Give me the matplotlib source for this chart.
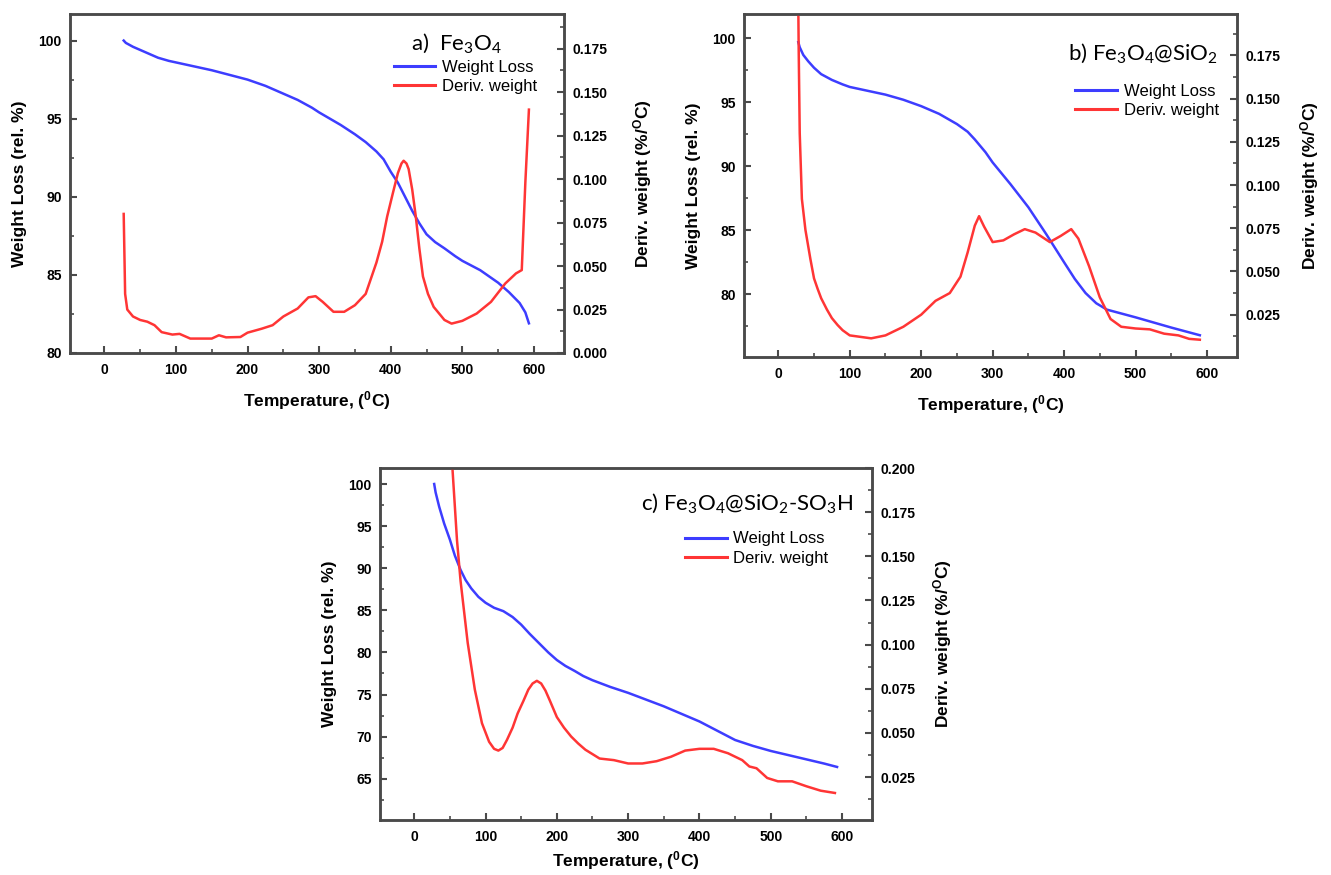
import matplotlib
matplotlib.use("Agg")
import matplotlib.pyplot as plt
from matplotlib.lines import Line2D
from matplotlib.ticker import MultipleLocator

plt.rcParams.update({
    "font.family": ["Liberation Sans", "DejaVu Sans"],
    "font.weight": "bold",
    "axes.labelweight": "bold",
    "axes.linewidth": 1.8,
    "axes.edgecolor": "#4a4a4a",
    "xtick.direction": "in", "ytick.direction": "in",
    "xtick.major.size": 5, "ytick.major.size": 5,
    "xtick.minor.size": 3, "ytick.minor.size": 3,
    "xtick.major.width": 1.5, "ytick.major.width": 1.5,
    "xtick.minor.width": 1.2, "ytick.minor.width": 1.2,
    "xtick.color": "#4a4a4a", "ytick.color": "#4a4a4a",
    "xtick.labelcolor": "black", "ytick.labelcolor": "black",
    "xtick.labelsize": 10, "ytick.labelsize": 10,
    "xtick.major.pad": 7, "ytick.major.pad": 6,
    "mathtext.default": "regular",
})

BLUE, RED = "#3d3dff", "#ff3535"
W, H = 1331, 875

# ---- a) Fe3O4 ----
t_wt_a = [27, 30, 40, 50, 60, 75, 90, 100, 125, 150, 175, 200, 225, 250, 270, 290, 300, 315,
          330, 350, 365, 380, 390, 400, 410, 420, 430, 440, 450, 462, 475, 490, 500, 525, 550,
          565, 580, 588, 593]
wt_a = [100.0, 99.85, 99.6, 99.4, 99.2, 98.9, 98.7, 98.6, 98.35, 98.1, 97.8, 97.5, 97.1, 96.6,
        96.2, 95.7, 95.4, 95.0, 94.6, 94.0, 93.5, 92.9, 92.4, 91.6, 90.9, 90.0, 89.1, 88.3,
        87.6, 87.1, 86.7, 86.2, 85.9, 85.3, 84.5, 83.9, 83.2, 82.6, 81.9]
t_dw_a = [27, 29, 32, 40, 50, 60, 70, 80, 95, 105, 120, 150, 160, 170, 190, 200, 220, 235, 250,
          270, 285, 295, 305, 320, 335, 350, 365, 380, 388, 395, 403, 410, 415, 418, 422, 425,
          430, 435, 440, 445, 452, 460, 475, 485, 500, 520, 540, 560, 575, 583, 588, 593]
dw_a = [0.080, 0.034, 0.025, 0.021, 0.019, 0.018, 0.016, 0.012, 0.0106, 0.011, 0.0083, 0.0083,
        0.0102, 0.009, 0.0092, 0.0117, 0.014, 0.016, 0.021, 0.0256, 0.032, 0.0327, 0.0294,
        0.0237, 0.0237, 0.0275, 0.034, 0.052, 0.064, 0.0785, 0.092, 0.1035, 0.109, 0.1106,
        0.109, 0.1058, 0.094, 0.0785, 0.060, 0.044, 0.034, 0.0265, 0.019, 0.0169, 0.0185,
        0.0227, 0.0294, 0.040, 0.0458, 0.0477, 0.098, 0.140]

# ---- b) Fe3O4@SiO2 ----
t_wt_b = [28, 30, 35, 42, 50, 60, 75, 90, 100, 125, 150, 175, 200, 225, 250, 265, 275, 290,
          300, 325, 350, 375, 400, 415, 430, 445, 460, 480, 500, 525, 550, 570, 590]
wt_b = [99.7, 99.3, 98.7, 98.2, 97.7, 97.2, 96.75, 96.4, 96.2, 95.9, 95.6, 95.2, 94.7, 94.1,
        93.3, 92.7, 92.1, 91.1, 90.3, 88.6, 86.8, 84.7, 82.5, 81.2, 80.1, 79.3, 78.8, 78.5,
        78.2, 77.8, 77.4, 77.1, 76.8]
t_dw_b = [27, 28.5, 30, 33, 38, 45, 50, 55, 60, 68, 75, 83, 90, 100, 130, 150, 175, 200, 220,
          240, 255, 265, 275, 281, 288, 300, 315, 330, 345, 360, 380, 395, 410, 420, 435, 450,
          465, 480, 500, 520, 540, 560, 575, 590]
dw_b = [0.250, 0.180, 0.130, 0.092, 0.074, 0.057, 0.046, 0.040, 0.0345, 0.028, 0.023, 0.019,
        0.016, 0.013, 0.0113, 0.013, 0.018, 0.025, 0.033, 0.0375, 0.047, 0.061, 0.0765, 0.082,
        0.076, 0.067, 0.068, 0.0715, 0.0745, 0.0725, 0.067, 0.0705, 0.0745, 0.069, 0.053,
        0.035, 0.0225, 0.018, 0.017, 0.0165, 0.014, 0.013, 0.011, 0.0105]

# ---- c) Fe3O4@SiO2-SO3H ----
t_wt_c = [28, 30, 35, 42, 50, 57, 65, 72, 80, 90, 100, 112, 125, 138, 150, 162, 175, 188, 200,
          212, 225, 237, 250, 275, 300, 325, 350, 375, 400, 425, 450, 475, 500, 525, 550, 575,
          593]
wt_c = [100.0, 99.0, 97.3, 95.3, 93.4, 91.5, 89.8, 88.6, 87.6, 86.6, 85.9, 85.3, 84.9, 84.2,
        83.3, 82.2, 81.1, 80.0, 79.1, 78.4, 77.8, 77.2, 76.7, 75.9, 75.2, 74.4, 73.6, 72.7,
        71.8, 70.7, 69.6, 68.9, 68.3, 67.8, 67.3, 66.8, 66.4]
t_dw_c = [52, 60, 65, 75, 85, 95, 105, 112, 118, 124, 130, 138, 145, 153, 160, 166, 172, 178,
          184, 190, 200, 210, 220, 230, 240, 260, 280, 300, 320, 340, 360, 380, 400, 420, 440,
          460, 470, 480, 495, 510, 530, 550, 570, 590]
dw_c = [0.210, 0.159, 0.136, 0.101, 0.0745, 0.0555, 0.045, 0.041, 0.040, 0.0415, 0.046, 0.053,
        0.061, 0.068, 0.0745, 0.078, 0.0795, 0.078, 0.074, 0.0685, 0.059, 0.053, 0.048, 0.044,
        0.0405, 0.0355, 0.0346, 0.0327, 0.0327, 0.034, 0.0365, 0.040, 0.041, 0.041, 0.0385,
        0.0346, 0.031, 0.030, 0.0245, 0.0226, 0.0226, 0.0198, 0.0173, 0.016]


def panel(fig, px, t_wt, wt, t_dw, dw, ylim, yticks, ylim2, y2ticks, title, title_pos,
          title_ha, leg_anchor, rpad, xpad):
    x0, y0, x1, y1 = px
    ax = fig.add_axes([x0 / W, 1 - y1 / H, (x1 - x0) / W, (y1 - y0) / H])
    ax2 = ax.twinx()
    ax.plot(t_wt, wt, color=BLUE, lw=1.8)
    ax2.plot(t_dw, dw, color=RED, lw=1.8)

    ax.set_xlim(-48, 642)
    ax.set_ylim(*ylim)
    ax.set_yticks(yticks)
    ax.yaxis.set_minor_locator(MultipleLocator(2.5))
    ax.set_xticks(range(0, 601, 100))
    ax.xaxis.set_minor_locator(MultipleLocator(50))
    ax.tick_params(top=False, which="both")
    ax2.set_ylim(*ylim2)
    ax2.set_yticks(y2ticks)
    ax2.set_yticklabels([f"{v:.3f}" for v in y2ticks])
    ax2.yaxis.set_minor_locator(MultipleLocator(0.0125))

    ax.set_xlabel("Temperature, ($^0$C)", fontsize=12.5, labelpad=xpad)
    ax.set_ylabel("Weight Loss (rel. %)", fontsize=12.5, labelpad=8)
    ax2.set_ylabel("Deriv. weight (%/$^O$C)", fontsize=12.5, labelpad=rpad)

    ax.text(*title_pos, title, transform=ax.transAxes, ha=title_ha, va="center",
            fontsize=16, fontweight="normal", family="Lato")
    handles = [Line2D([], [], color=BLUE, lw=2.2), Line2D([], [], color=RED, lw=2.2)]
    ax2.legend(handles, ["Weight Loss", "Deriv. weight"], loc="upper left",
               bbox_to_anchor=leg_anchor, frameon=False, borderpad=0, borderaxespad=0,
               handlelength=2.5, handletextpad=0.4, labelspacing=0.25,
               prop={"size": 12, "weight": "normal"})
    return ax, ax2


fig = plt.figure(figsize=(W / 100, H / 100), dpi=100)

panel(fig, (70, 14, 564, 353), t_wt_a, wt_a, t_dw_a, dw_a,
      (80, 101.7), [80, 85, 90, 95, 100], (0, 0.195),
      [0.0, 0.025, 0.05, 0.075, 0.1, 0.125, 0.15, 0.175],
      r"a)  Fe$_3$O$_4$", (0.69, 0.914), "left", (0.655, 0.865), 17, 9)

panel(fig, (744, 14, 1237, 357), t_wt_b, wt_b, t_dw_b, dw_b,
      (75.1, 101.9), [80, 85, 90, 95, 100], (0.0005, 0.199),
      [0.025, 0.05, 0.075, 0.1, 0.125, 0.15, 0.175],
      r"b) Fe$_3$O$_4$@SiO$_2$", (0.962, 0.886), "right", (0.672, 0.797), 13, 9)

panel(fig, (380, 468, 872, 820), t_wt_c, wt_c, t_dw_c, dw_c,
      (60.1, 101.9), [65, 70, 75, 80, 85, 90, 95, 100], (0.0007, 0.2),
      [0.025, 0.05, 0.075, 0.1, 0.125, 0.15, 0.175, 0.2],
      r"c) Fe$_3$O$_4$@SiO$_2$-SO$_3$H", (0.963, 0.90), "right", (0.62, 0.82), 11, 4)

fig.savefig("out.png", dpi=100)
